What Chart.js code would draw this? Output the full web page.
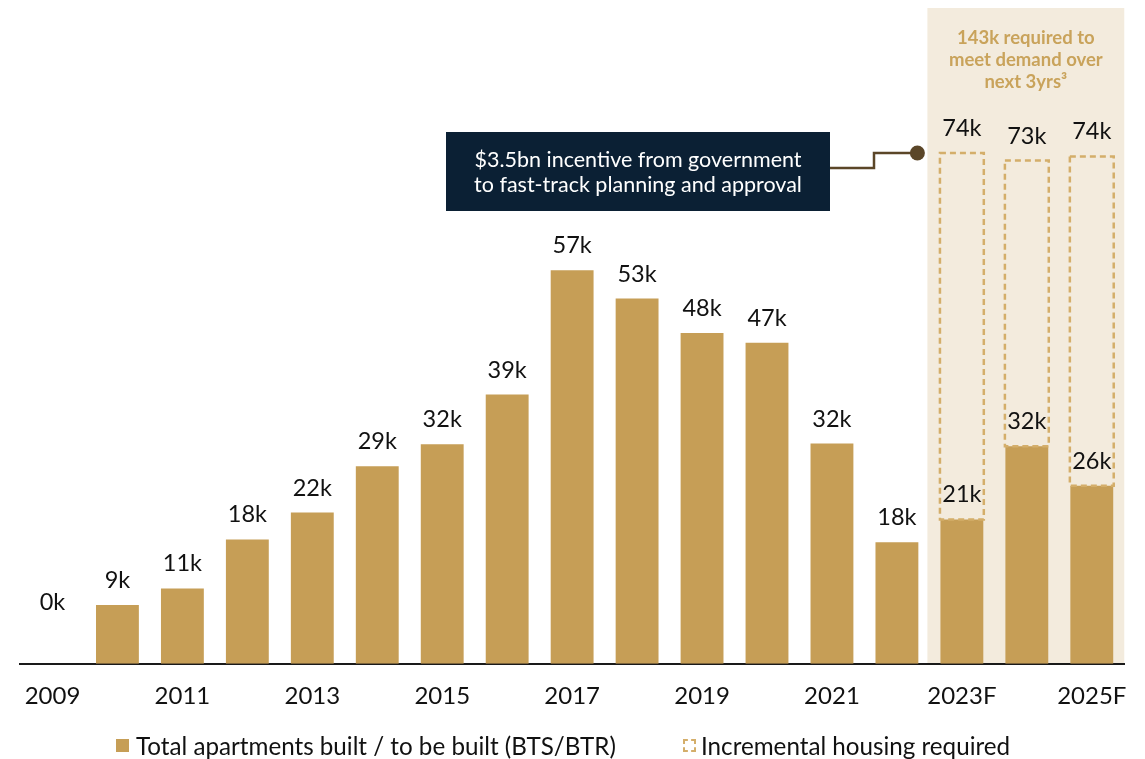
<!DOCTYPE html>
<html><head><meta charset="utf-8">
<script src="https://cdn.jsdelivr.net/npm/chart.js@4.4.0/dist/chart.umd.min.js"></script>
<style>
html,body{margin:0;padding:0;background:#fff;}
#wrap{position:relative;width:1145px;height:759px;overflow:hidden;}
#c{position:absolute;left:0;top:0;}
.item{position:absolute;top:732px;height:27px;display:flex;align-items:center;font-family:Lato,"Noto Sans",sans-serif;font-size:24.2px;color:#111;white-space:nowrap;}
.sw{width:13px;height:13px;margin-right:7px;box-sizing:border-box;flex:none;}
</style></head>
<body>
<div id="wrap">
<canvas id="c" width="1145" height="759"></canvas>
<div class="item" style="left:116px"><span class="sw" style="background:#c69e56"></span><span>Total apartments built / to be built (BTS/BTR)</span></div>
<div class="item" style="left:683px"><span class="sw" style="border:2px dashed #d4ae6a;background:#fff;margin-right:5px"></span><span>Incremental housing required</span></div>
</div>
<script>
// ---- data ----
const categories = ['2009','2010','2011','2012','2013','2014','2015','2016','2017','2018','2019','2020','2021','2022','2023F','2024F','2025F'];
const builtValues = [0, 8.5, 10.9, 18.0, 21.9, 28.6, 31.8, 39.0, 57.0, 52.9, 47.9, 46.5, 31.9, 17.6, 20.9, 31.5, 25.8];
const incrementalValues = [null, null, null, null, null, null, null, null, null, null, null, null, null, null, 53.1, 41.4, 47.7];
const seriesNames = ['Total apartments built / to be built (BTS/BTR)', 'Incremental housing required'];
const annotationLines = ['$3.5bn incentive from government', 'to fast-track planning and approval'];
const forecastNoteLines = ['143k required to', 'meet demand over', 'next 3yrs\u00B3'];
const forecastStartIndex = 14;

const GOLD = '#c69e56';
const BEIGE = '#f3ebdd';
const DASH = '#d4ae6a';

const decor = {
  id: 'decor',
  beforeDraw(chart) {
    const {ctx, chartArea, scales} = chart;
    const x = scales.x;
    const half = (x.getPixelForValue(1) - x.getPixelForValue(0)) / 2;
    const left = x.getPixelForValue(forecastStartIndex) - half - 2;
    ctx.save();
    ctx.fillStyle = BEIGE;
    ctx.fillRect(left, chartArea.top, chartArea.right - left, chartArea.bottom - chartArea.top);
    ctx.restore();
  },
  afterDatasetsDraw(chart) {
    const {ctx} = chart;
    const m0 = chart.getDatasetMeta(0);
    const m1 = chart.getDatasetMeta(1);
    ctx.save();
    ctx.strokeStyle = DASH;
    ctx.lineWidth = 2.5;
    ctx.setLineDash([6, 4]);
    m1.data.forEach((el, i) => {
      if (incrementalValues[i] == null) return;
      const p = el.getProps(['x','y','base','width'], true);
      ctx.strokeRect(p.x - p.width/2 - 0.5, p.y, p.width + 1, p.base - p.y);
    });
    ctx.setLineDash([]);
    ctx.fillStyle = '#111';
    ctx.font = '23.5px Lato, "Noto Sans", sans-serif';
    ctx.textAlign = 'center';
    ctx.textBaseline = 'alphabetic';
    m0.data.forEach((el, i) => {
      const p = el.getProps(['x','y','base'], true);
      const y = Math.min(p.y, p.base - 36.5) - 17;
      ctx.fillText(Math.round(builtValues[i]) + 'k', p.x, y);
    });
    m1.data.forEach((el, i) => {
      if (incrementalValues[i] == null) return;
      const p = el.getProps(['x','y'], true);
      const total = builtValues[i] + incrementalValues[i];
      ctx.fillText(Math.round(total) + 'k', p.x, p.y - 17);
    });
    ctx.restore();
  },
  afterDraw(chart) {
    const {ctx, scales, chartArea} = chart;
    const x = scales.x, y = scales.y;
    const half = (x.getPixelForValue(1) - x.getPixelForValue(0)) / 2;
    const bgLeft = x.getPixelForValue(forecastStartIndex) - half - 2;
    ctx.save();
    ctx.fillStyle = '#c9a35b';
    ctx.font = 'bold 18.5px Lato, "Noto Sans", sans-serif';
    ctx.textAlign = 'center';
    ctx.textBaseline = 'middle';
    const cx = (bgLeft + chartArea.right) / 2;
    forecastNoteLines.forEach((t, i) => ctx.fillText(t, cx, 38 + i * 22));
    const bx = 446, by = 132, bw = 384, bh = 79;
    ctx.fillStyle = '#0b2034';
    ctx.fillRect(bx, by, bw, bh);
    ctx.fillStyle = '#ffffff';
    ctx.font = '21.5px Lato, "Noto Sans", sans-serif';
    annotationLines.forEach((t, i) => ctx.fillText(t, bx + bw/2, 160 + i * 25));
    const dotY = y.getPixelForValue(74);
    const dotX = bgLeft - 10;
    ctx.strokeStyle = '#5b4628';
    ctx.lineWidth = 2.5;
    ctx.beginPath();
    ctx.moveTo(bx + bw, 168);
    ctx.lineTo(874, 168);
    ctx.lineTo(874, dotY);
    ctx.lineTo(dotX, dotY);
    ctx.stroke();
    ctx.fillStyle = '#5b4628';
    ctx.beginPath();
    ctx.arc(dotX, dotY, 7.5, 0, Math.PI * 2);
    ctx.fill();
    ctx.restore();
  }
};

new Chart(document.getElementById('c'), {
  type: 'bar',
  data: {
    labels: categories,
    datasets: [
      { label: seriesNames[0], data: builtValues, backgroundColor: GOLD, borderWidth: 0, categoryPercentage: 1, barPercentage: 0.66 },
      { label: seriesNames[1], data: incrementalValues, backgroundColor: 'rgba(0,0,0,0)', borderWidth: 0, categoryPercentage: 1, barPercentage: 0.66 }
    ]
  },
  options: {
    responsive: false,
    animation: false,
    devicePixelRatio: 1,
    layout: { padding: { left: 20, right: 20, top: 8, bottom: 30.5 } },
    plugins: { legend: { display: false }, tooltip: { enabled: false } },
    scales: {
      x: {
        stacked: true,
        grid: { display: false, drawTicks: false },
        border: { display: true, color: '#1a1a1a', width: 2 },
        ticks: {
          autoSkip: false, maxRotation: 0, padding: 18, color: '#111',
          font: { family: 'Lato', size: 24 },
          callback: function(v, i) { return i % 2 === 0 ? categories[i] : ''; }
        }
      },
      y: { stacked: true, display: false, min: 0, max: 95 }
    }
  },
  plugins: [decor]
});
</script>
</body></html>
